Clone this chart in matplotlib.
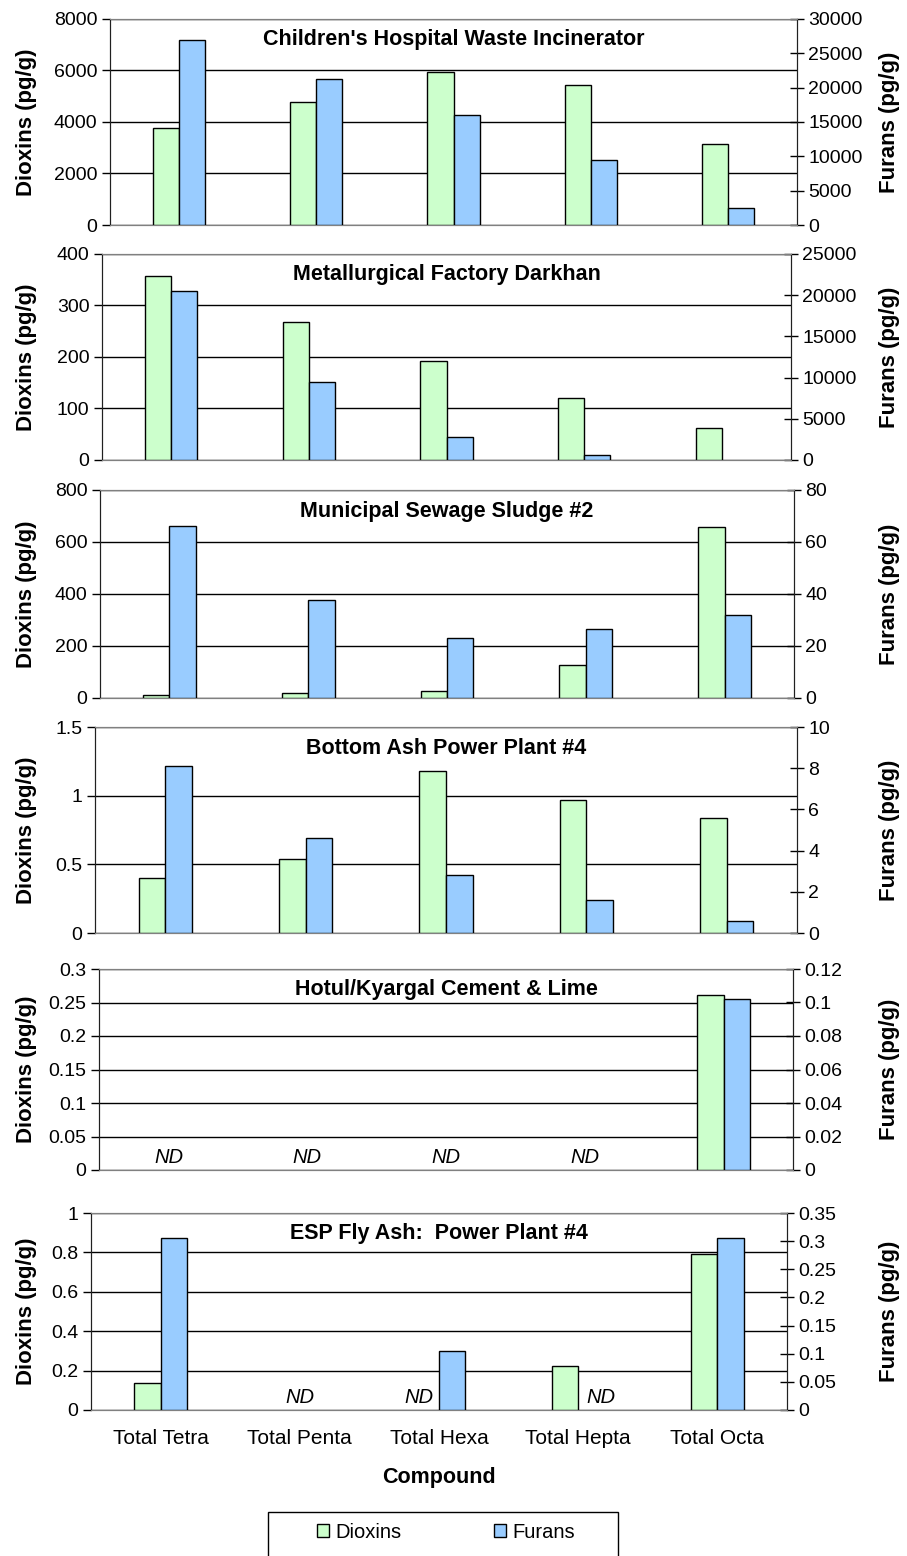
import numpy as np
import matplotlib
matplotlib.use("Agg")
import matplotlib.pyplot as plt
from matplotlib.patches import Patch, Rectangle
from matplotlib.ticker import FuncFormatter

plt.rcParams['font.family'] = ['Liberation Sans', 'DejaVu Sans']

nan = np.nan
categories = ['Total Tetra', 'Total Penta', 'Total Hexa', 'Total Hepta', 'Total Octa']
titles = ["Children's Hospital Waste Incinerator",
          "Metallurgical Factory Darkhan",
          "Municipal Sewage Sludge #2",
          "Bottom Ash Power Plant #4",
          "Hotul/Kyargal Cement & Lime",
          "ESP Fly Ash:  Power Plant #4"]

dioxins_hospital = [3750, 4780, 5950, 5450, 3150]
furans_hospital = [26900, 21300, 16000, 9400, 2500]
dioxins_metallurgical = [358, 267, 193, 120, 62]
furans_metallurgical = [20500, 9450, 2750, 625, 0]
dioxins_sewage = [12, 20, 27, 128, 658]
furans_sewage = [66, 37.5, 23, 26.7, 31.8]
dioxins_bottom_ash = [0.40, 0.54, 1.18, 0.97, 0.84]
furans_bottom_ash = [8.1, 4.63, 2.8, 1.6, 0.6]
dioxins_cement = [nan, nan, nan, nan, 0.261]
furans_cement = [nan, nan, nan, nan, 0.102]
dioxins_fly_ash = [0.135, nan, nan, 0.225, 0.79]
furans_fly_ash = [0.305, nan, 0.105, nan, 0.305]

dioxin_axes = [(0, 8000, 2000), (0, 400, 100), (0, 800, 200), (0, 1.5, 0.5), (0, 0.3, 0.05), (0, 1, 0.2)]
furan_axes = [(0, 30000, 5000), (0, 25000, 5000), (0, 80, 20), (0, 10, 2), (0, 0.12, 0.02), (0, 0.35, 0.05)]

dioxin_sets = [dioxins_hospital, dioxins_metallurgical, dioxins_sewage,
               dioxins_bottom_ash, dioxins_cement, dioxins_fly_ash]
furan_sets = [furans_hospital, furans_metallurgical, furans_sewage,
              furans_bottom_ash, furans_cement, furans_fly_ash]

W, H = 907, 1556
fig = plt.figure(figsize=(W / 100, H / 100), dpi=100)

# pixel boxes (left, right, top, bottom)
boxes = [(110, 797, 19, 225), (102, 791, 254, 460), (100, 794, 490, 698),
         (95, 797, 727, 933), (99, 793, 969, 1170), (91, 787, 1213, 1410)]

GREEN = '#CCFFCC'
BLUE = '#99CCFF'
bw = 0.19
x = np.arange(len(categories))
fmt = FuncFormatter(lambda v, p: ('%g' % round(v, 6)))
TICK_FS = 14

for i, (l, r, t, b) in enumerate(boxes):
    ax = fig.add_axes([l / W, 1 - b / H, (r - l) / W, (b - t) / H])
    ax2 = ax.twinx()
    d = np.array(dioxin_sets[i], dtype=float)
    f = np.array(furan_sets[i], dtype=float)
    md = np.nan_to_num(d) > 0
    mf = np.nan_to_num(f) > 0
    ax.bar((x - bw / 2)[md], d[md], width=bw, color=GREEN, edgecolor='black',
           linewidth=1.0, zorder=3)
    ax2.bar((x + bw / 2)[mf], f[mf], width=bw, color=BLUE, edgecolor='black',
            linewidth=1.0, zorder=3)
    ax.set_xlim(-0.5, len(categories) - 0.5)
    ax2.set_xlim(-0.5, len(categories) - 0.5)
    lo, hi, st = dioxin_axes[i]
    ax.set_ylim(lo, hi)
    ax.set_yticks(np.arange(lo, hi + st / 2, st))
    flo, fhi, fst = furan_axes[i]
    ax2.set_ylim(flo, fhi)
    ax2.set_yticks(np.arange(flo, fhi + fst / 2, fst))
    ax.yaxis.set_major_formatter(fmt)
    ax2.yaxis.set_major_formatter(fmt)
    ax.grid(axis='y', color='black', linewidth=1.0)
    ax.set_axisbelow(True)
    ax.tick_params(axis='y', direction='out', length=6, width=1, labelsize=TICK_FS, pad=3)
    ax2.tick_params(axis='y', direction='inout', length=10, width=1, labelsize=TICK_FS, pad=3)
    for a in (ax, ax2):
        a.spines['top'].set_color('#808080')
        a.spines['bottom'].set_color('#808080')
        a.spines['left'].set_color('#202020')
        a.spines['right'].set_color('#202020')
    if i == len(boxes) - 1:
        ax.set_xticks(np.arange(-0.5, len(categories) + 0.5, 1.0))
        ax.set_xticklabels([])
        ax.set_xticks(x, minor=True)
        ax.set_xticklabels(categories, minor=True, fontsize=15)
        ax.tick_params(axis='x', which='major', direction='out', length=6, color='#808080')
        ax.tick_params(axis='x', which='minor', length=0, pad=14)
        ax.set_xlabel('Compound', fontsize=15.5, fontweight='bold', labelpad=13)
    else:
        ax.set_xticks([])
    ax2.set_xticks([])
    ax.set_ylabel('Dioxins (pg/g)', fontsize=16, fontweight='bold')
    ax2.set_ylabel('Furans (pg/g)', fontsize=16, fontweight='bold')
    ax.yaxis.set_label_coords(-(l - 37) / (r - l), 0.5)
    ax2.yaxis.set_label_coords(1 + (879 - r) / (r - l), 0.5)
    ax.text(0.5, 1 - 21 / (b - t), titles[i], transform=ax.transAxes, ha='center',
            va='center', fontsize=15.5, fontweight='bold', zorder=5)
    # ND labels
    tr = ax.get_xaxis_transform()
    for k in range(len(categories)):
        dn, fn = np.isnan(d[k]), np.isnan(f[k])
        if dn and fn:
            xp = x[k]
        elif dn:
            xp = x[k] - bw / 2 - 0.05
        elif fn:
            xp = x[k] + bw / 2 + 0.07
        else:
            continue
        ax.text(xp, 0.015, 'ND', transform=tr, ha='center', va='bottom',
                fontsize=14.5, fontstyle='italic', zorder=5)

# legend
handles = [Patch(facecolor=GREEN, edgecolor='black', linewidth=1.0),
           Patch(facecolor=BLUE, edgecolor='black', linewidth=1.0)]
fig.add_artist(Rectangle((268 / W, -0.01), 350 / W, (1556 - 1512) / H + 0.01,
                         transform=fig.transFigure, facecolor='white',
                         edgecolor='black', linewidth=1.0))
fig.legend(handles, ['Dioxins', 'Furans'], ncol=2, frameon=False,
           loc='center', bbox_to_anchor=(446 / W, 1 - 1532 / H),
           fontsize=14.5, handlelength=0.6, handleheight=0.6, handletextpad=0.3,
           columnspacing=4.6)

fig.savefig('out.png', dpi=100)
